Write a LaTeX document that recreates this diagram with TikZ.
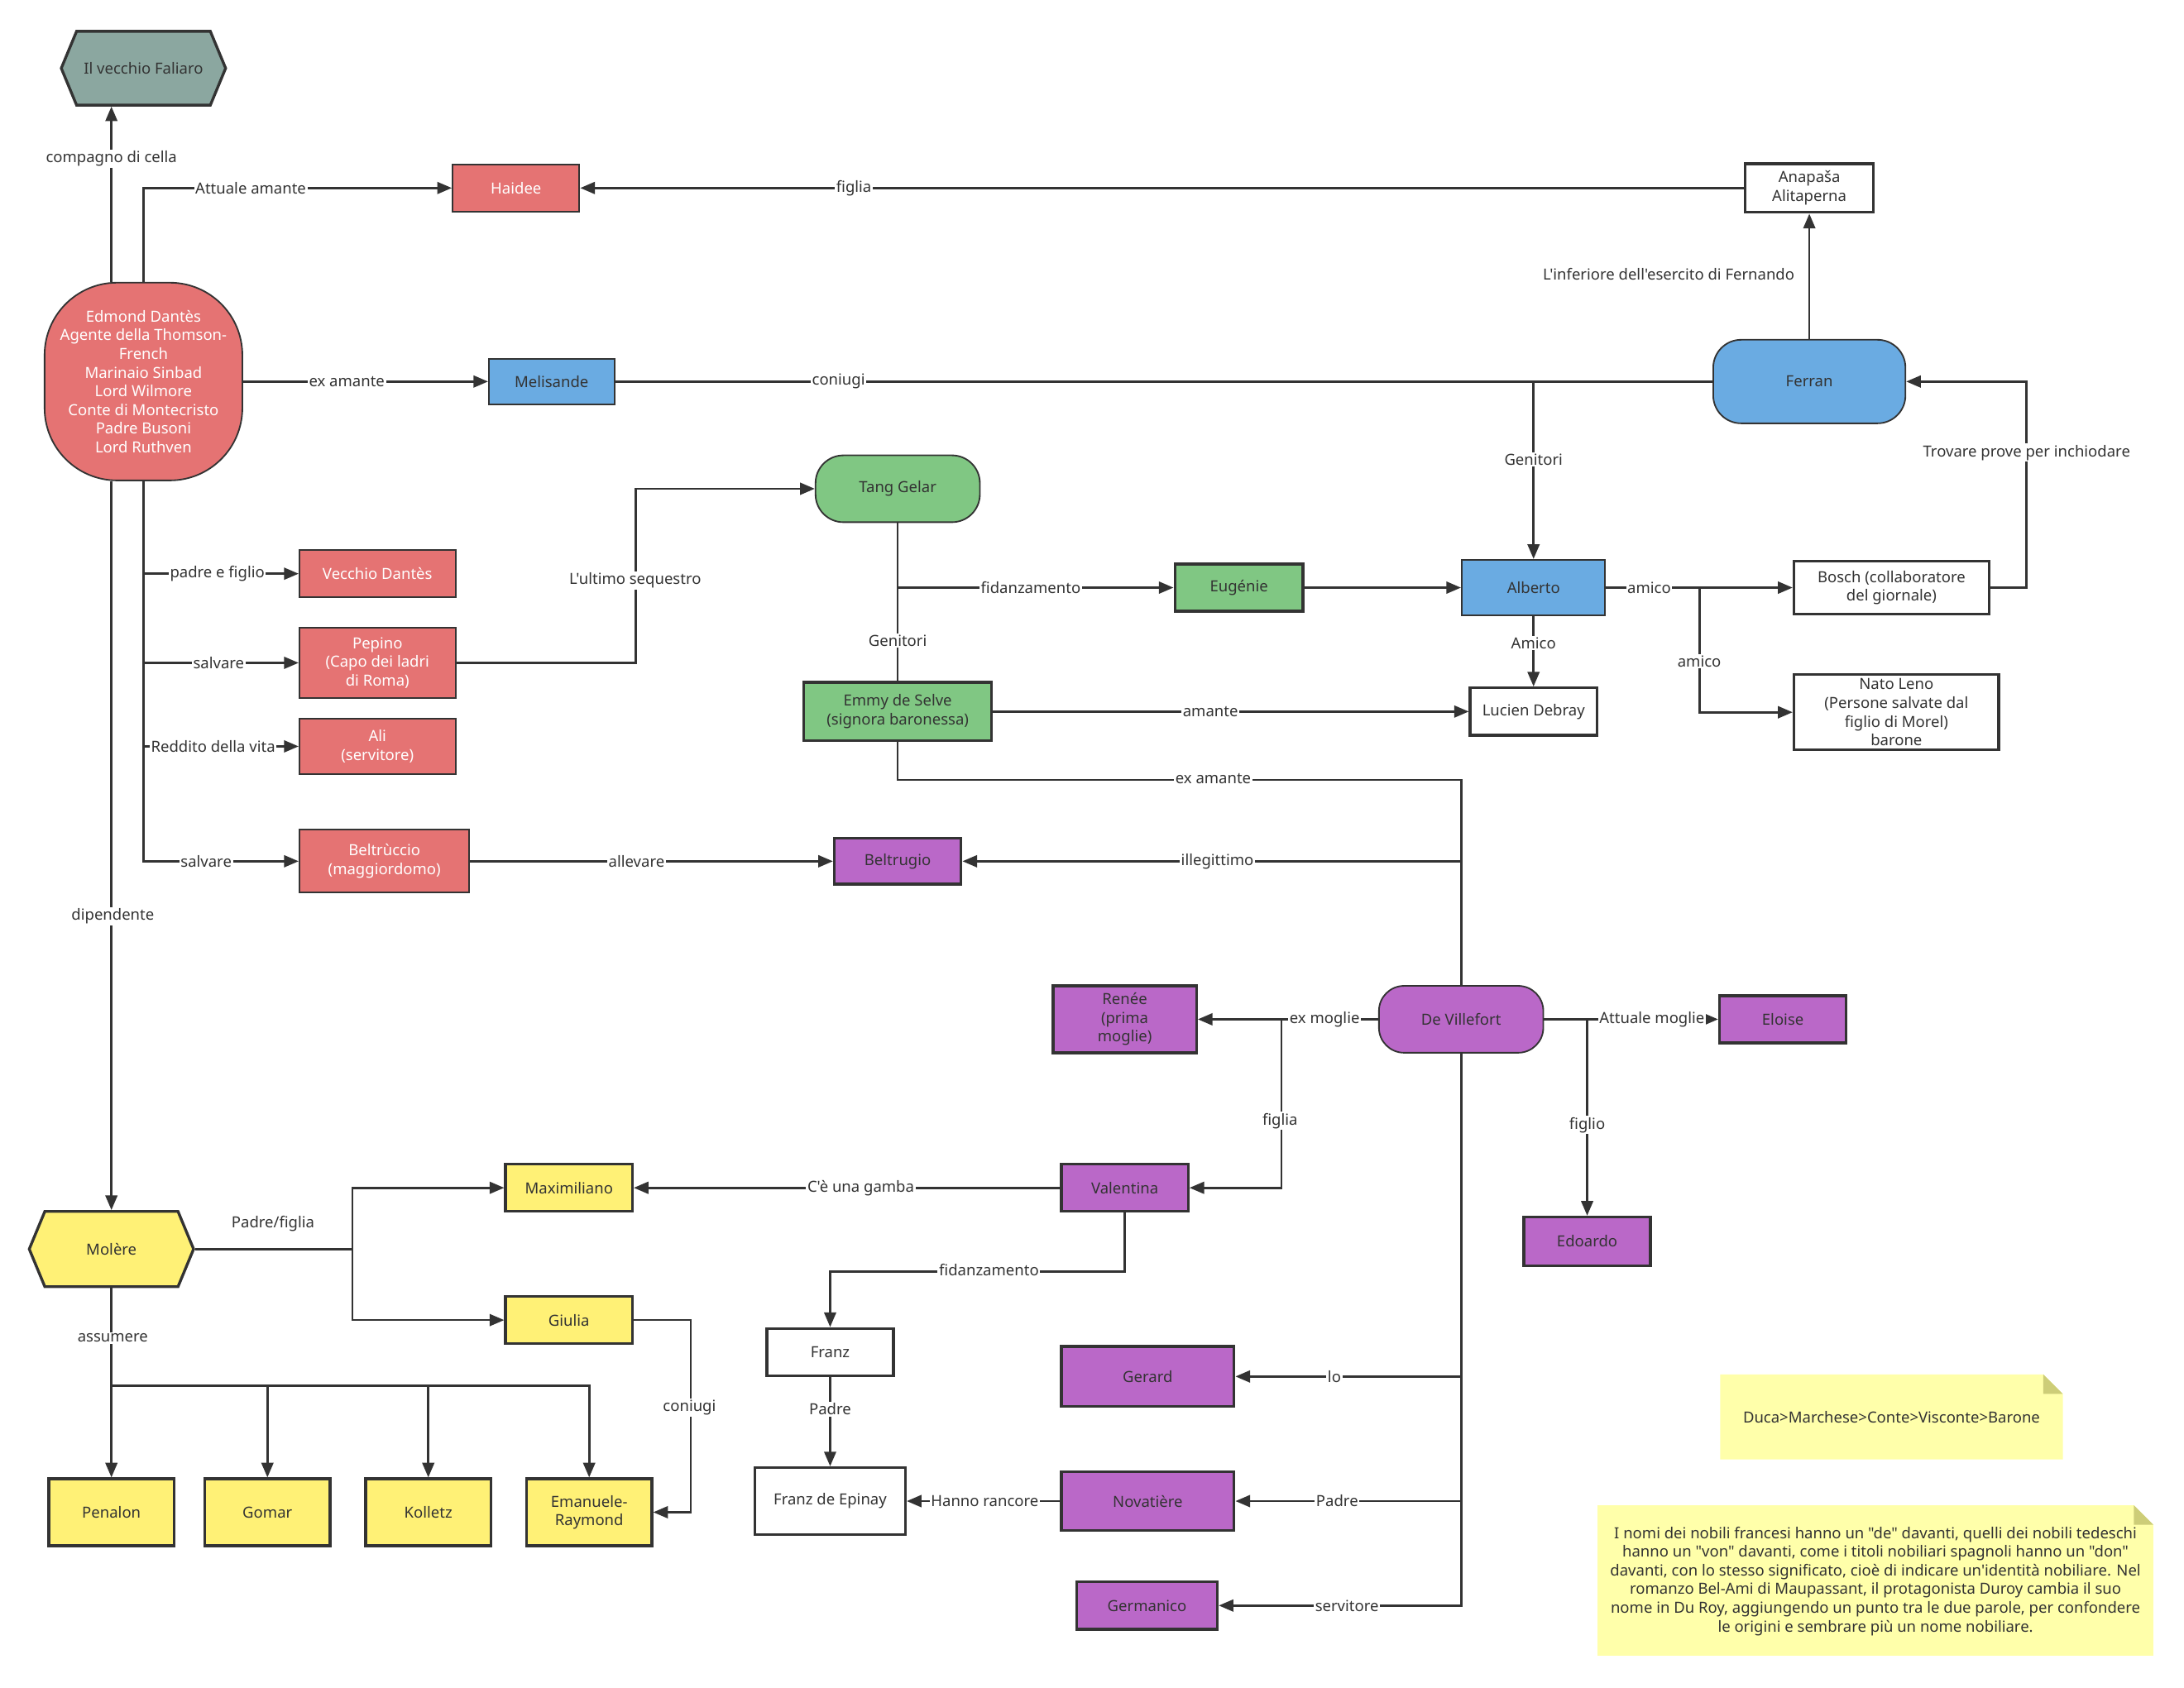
\documentclass[tikz,border=0pt]{standalone}
\usepackage{fontspec}
\setmainfont{Noto Sans}[Ligatures=TeXOff]
\usetikzlibrary{arrows.meta,calc,shapes.symbols}

\definecolor{ink}{RGB}{51,51,51}
\definecolor{redn}{RGB}{229,115,115}
\definecolor{bluen}{RGB}{106,171,226}
\definecolor{greenn}{RGB}{128,199,131}
\definecolor{purplen}{RGB}{186,104,200}
\definecolor{yellown}{RGB}{255,241,118}
\definecolor{grayn}{RGB}{139,167,160}
\definecolor{notey}{RGB}{255,255,170}
\definecolor{notefold}{RGB}{205,205,120}

\tikzset{every picture/.style={line width=0.75pt}}

\begin{document}
\begin{tikzpicture}[x=1pt,y=1pt,yscale=-1,xscale=1,
    font=\fontsize{11}{13.4}\selectfont, text=ink,
    box/.style={draw=ink, line width=2pt, align=center, inner sep=1pt},
    pill/.style={box, line width=1.1pt, rounded corners=#1},
    hexa/.style={box, shape=signal, signal to=west and east, signal pointer angle=135},
    link/.style={draw=ink, line width=1.6pt},
    arr/.style={link, -{Triangle[length=10.5pt,width=8.5pt]}},
    lbl/.style={fill=white, inner sep=1pt}]
    %set diagram size
    \useasboundingbox (0,0) rectangle (1568,1212);

    %Shape: Hexagon
    \node[hexa, fill=grayn, minimum width=118pt, minimum height=53pt] (faliaro) at (103,49) {Il vecchio Faliaro};
    %Shape: Rounded Rect
    \node[box, line width=1.1pt, rounded corners=52pt, fill=redn, text=white, minimum width=142pt, minimum height=142pt] (edmond) at (103,274) {Edmond Dantès\\Agente della Thomson-\\French\\Marinaio Sinbad\\Lord Wilmore\\Conte di Montecristo\\Padre Busoni\\Lord Ruthven};
    %Shape: Rectangle
    \node[box, line width=1.2pt, fill=redn, text=white, minimum width=91pt, minimum height=34pt] (haidee) at (370.5,135) {Haidee};
    \node[box, fill=white, minimum width=92pt, minimum height=35pt] (anapasa) at (1299,135) {Anapaša\\Alitaperna};
    \node[pill=20pt, fill=bluen, minimum width=138pt, minimum height=60pt] (ferran) at (1299,274) {Ferran};
    \node[box, line width=1.2pt, fill=bluen, minimum width=90pt, minimum height=33pt] (melisande) at (396,274) {Melisande};
    \node[pill=20pt, fill=greenn, minimum width=118pt, minimum height=48pt] (tang) at (644.5,351) {Tang Gelar};
    \node[box, fill=greenn, minimum width=92pt, minimum height=34pt] (eugenie) at (889.5,422) {Eugénie};
    \node[box, line width=1.2pt, fill=bluen, minimum width=103pt, minimum height=40pt] (alberto) at (1101,422) {Alberto};
    \node[box, fill=white, minimum width=140pt, minimum height=38pt] (bosch) at (1358,422) {Bosch (collaboratore\\del giornale)};
    \node[box, fill=white, inner sep=0pt, minimum width=147pt, minimum height=54pt] (nato) at (1361.5,511.5) {Nato Leno\\(Persone salvate dal\\figlio di Morel)\\barone};
    \node[box, fill=white, minimum width=91pt, minimum height=34pt] (lucien) at (1101,511) {Lucien Debray};
    \node[box, fill=greenn, minimum width=135pt, minimum height=42pt] (emmy) at (644.5,511) {Emmy de Selve\\(signora baronessa)};

    %Shape: Rectangle (red)
    \node[box, line width=1.2pt, fill=redn, text=white, minimum width=112pt, minimum height=34pt] (vdantes) at (271,412) {Vecchio Dantès};
    \node[box, line width=1.2pt, fill=redn, text=white, minimum width=112pt, minimum height=50pt] (pepino) at (271,476) {Pepino\\(Capo dei ladri\\di Roma)};
    \node[box, line width=1.2pt, fill=redn, text=white, minimum width=112pt, minimum height=40pt] (ali) at (271,536) {Ali\\(servitore)};
    \node[box, line width=1.2pt, fill=redn, text=white, minimum width=122pt, minimum height=45pt] (beltruccio) at (276,618.5) {Beltrùccio\\(maggiordomo)};

    %Shape: Rectangle (purple)
    \node[box, fill=purplen, minimum width=91pt, minimum height=33pt] (beltrugio) at (644.5,618.5) {Beltrugio};
    \node[pill=18pt, fill=purplen, minimum width=118pt, minimum height=48pt] (villefort) at (1049,732) {De Villefort};
    \node[box, fill=purplen, minimum width=103pt, minimum height=48pt] (renee) at (807.5,732) {Renée\\(prima\\moglie)};
    \node[box, fill=purplen, minimum width=91pt, minimum height=34pt] (eloise) at (1280,732) {Eloise};
    \node[box, fill=purplen, minimum width=91pt, minimum height=35pt] (edoardo) at (1139.5,891.5) {Edoardo};
    \node[box, fill=purplen, minimum width=91pt, minimum height=34pt] (valentina) at (807.5,853) {Valentina};
    \node[box, fill=purplen, minimum width=124pt, minimum height=43pt] (gerard) at (824,988.5) {Gerard};
    \node[box, fill=purplen, minimum width=124pt, minimum height=42pt] (novatiere) at (824,1078) {Novatière};
    \node[box, fill=purplen, minimum width=101pt, minimum height=34pt] (germanico) at (823.5,1153) {Germanico};

    %Shape: Rectangle (white)
    \node[box, fill=white, minimum width=91pt, minimum height=34pt] (franz) at (596,971) {Franz};
    \node[box, fill=white, minimum width=108pt, minimum height=48pt] (epinay) at (596,1078) {Franz de Epinay};

    %Shape: Rectangle (yellow)
    \node[hexa, fill=yellown, minimum width=118pt, minimum height=54pt] (molere) at (80,897) {Molère};
    \node[box, fill=yellown, minimum width=91pt, minimum height=34pt] (maximiliano) at (408.5,853) {Maximiliano};
    \node[box, fill=yellown, minimum width=91pt, minimum height=34pt] (giulia) at (408.5,948) {Giulia};
    \node[box, fill=yellown, minimum width=90pt, minimum height=48pt] (penalon) at (80,1086) {Penalon};
    \node[box, fill=yellown, minimum width=90pt, minimum height=48pt] (gomar) at (192,1086) {Gomar};
    \node[box, fill=yellown, minimum width=90pt, minimum height=48pt] (kolletz) at (307.5,1086) {Kolletz};
    \node[box, fill=yellown, minimum width=90pt, minimum height=48pt] (emanuele) at (423,1086) {Emanuele-\\Raymond};

    %Shape: Notes
    \fill[notey] (1235,987) -- (1467,987) -- (1481,1001) -- (1481,1048) -- (1235,1048) -- cycle;
    \fill[notefold] (1467,987) -- (1481,1001) -- (1467,1001) -- cycle;
    \node (noteA) at (1358,1018) {Duca>Marchese>Conte>Visconte>Barone};
    \fill[notey] (1147,1081) -- (1532,1081) -- (1546,1095) -- (1546,1189) -- (1147,1189) -- cycle;
    \fill[notefold] (1532,1081) -- (1546,1095) -- (1532,1095) -- cycle;
    \node[align=center] (noteB) at (1346.5,1135.5) {I nomi dei nobili francesi hanno un "de" davanti, quelli dei nobili tedeschi\\hanno un "von" davanti, come i titoli nobiliari spagnoli hanno un "don"\\davanti, con lo stesso significato, cioè di indicare un'identità nobiliare. Nel\\romanzo Bel-Ami di Maupassant, il protagonista Duroy cambia il suo\\nome in Du Roy, aggiungendo un punto tra le due parole, per confondere\\le origini e sembrare più un nome nobiliare.};

    %Forks
    \coordinate (amicofork) at ($(alberto.east)!0.5!(bosch.west)$);
    \coordinate (moglifork) at ($(renee.east)+(60,0)$);
    \coordinate (figliofork) at (edoardo.north |- villefort.east);
    \coordinate (molfork) at ($(molere.east)+(113,0)$);
    \coordinate (assfork) at ($(molere.south)+(0,70)$);

    %Straight Lines
    \draw[arr] ($(edmond.north)+(-23,0)$) -- ($(faliaro.south)+(-23,0)$);
    \draw[arr] (edmond.north) |- (haidee.west);
    \draw[arr] (anapasa.west) -- (haidee.east);
    \draw[arr] (edmond.east) -- (melisande.west);
    \draw[link] (melisande.east) -- (ferran.west);
    \draw[arr] (ferran.north) -- (anapasa.south);
    \draw[arr] (alberto.north |- ferran.west) -- (alberto.north);
    \draw[arr] (bosch.east) -- ++(26,0) |- (ferran.east);
    \draw[arr] (alberto.east) -- (bosch.west);
    \draw[arr] (amicofork) |- (nato.west);
    \draw[arr] (alberto.south) -- (lucien.north);
    \draw[arr] (eugenie.east) -- (alberto.west);
    \draw[link] (tang.south) -- (emmy.north);
    \draw[arr] (tang.south |- eugenie.west) -- (eugenie.west);
    \draw[arr] (pepino.east) -- ++(129,0) |- (tang.west);
    \draw[arr] (emmy.east) -- (lucien.west);
    \draw[link] (emmy.south) -- ++(0,27) -| (villefort.north);
    \draw[arr] (villefort.north |- beltrugio.east) -- (beltrugio.east);
    \draw[arr] (beltruccio.east) -- (beltrugio.west);
    \draw[arr] (edmond.south) |- (vdantes.west);
    \draw[arr] (edmond.south) |- (pepino.west);
    \draw[arr] (edmond.south) |- (ali.west);
    \draw[arr] (edmond.south) |- (beltruccio.west);
    \draw[arr] ($(edmond.south)+(-23,0)$) -- (molere.north);
    \draw[arr] (villefort.west) -- (renee.east);
    \draw[arr] (moglifork) |- (valentina.east);
    \draw[arr] (villefort.east) -- (eloise.west);
    \draw[arr] (figliofork) -- (edoardo.north);
    \draw[arr] (villefort.south) |- (gerard.east);
    \draw[arr] (villefort.south) |- (novatiere.east);
    \draw[arr] (villefort.south) |- (germanico.east);
    \draw[arr] (valentina.west) -- (maximiliano.east);
    \draw[arr] (valentina.south) -- ++(0,42) -| (franz.north);
    \draw[arr] (franz.south) -- (epinay.north);
    \draw[arr] (novatiere.west) -- (epinay.east);
    \draw[link] (molere.east) -- (molfork);
    \draw[arr] (molfork) |- (maximiliano.west);
    \draw[arr] (molfork) |- (giulia.west);
    \draw[link] (molere.south) -- (assfork);
    \draw[arr] (assfork) -| (penalon.north);
    \draw[arr] (assfork) -| (gomar.north);
    \draw[arr] (assfork) -| (kolletz.north);
    \draw[arr] (assfork) -| (emanuele.north);
    \draw[arr] (giulia.east) -- ++(41,0) |- (emanuele.east);

    % Text Node
    \node[lbl] (lcella) at (80,114) {compagno di cella};
    \node[lbl] (lattuale) at (180,135) {Attuale amante};
    \node[lbl] (lfiglia) at (613,135) {figlia};
    \node[lbl] (lexam) at (249,274) {ex amante};
    \node[lbl] (lconiugi) at (602,274) {coniugi};
    \node[anchor=east] (lfern) at (1292,197) {L'inferiore dell'esercito di Fernando};
    \node[lbl] (lgenA) at (1101,330) {Genitori};
    \node[lbl] (ltrov) at (1455,325) {Trovare prove per inchiodare};
    \node[lbl] (lamicoA) at (1184,422) {amico};
    \node[lbl] (lamicoB) at (1220,475) {amico};
    \node[lbl] (lamicoC) at (1101,462) {Amico};
    \node[lbl] (lseq) at (456,417) {L'ultimo sequestro};
    \node[lbl] (lfidA) at (740,422) {fidanzamento};
    \node[lbl] (lgenB) at (644.5,460) {Genitori};
    \node[lbl] (lamante) at (869,511) {amante};
    \node[lbl] (lexamB) at (871,559) {ex amante};
    \node[lbl] (lilleg) at (874,618.5) {illegittimo};
    \node[lbl] (lalle) at (457,618.5) {allevare};
    \node[lbl] (lpadre) at (156,412) {padre e figlio};
    \node[lbl] (lsalvA) at (157,476) {salvare};
    \node[lbl] (lredd) at (153,536) {Reddito della vita};
    \node[lbl] (lsalvB) at (148,618.5) {salvare};
    \node[lbl] (ldip) at (81,658) {dipendente};
    \node[lbl] (lexmo) at (951,732) {ex moglie};
    \node[lbl] (lfigliaB) at (919,805) {figlia};
    \node[lbl] (latmo) at (1186,732) {Attuale moglie};
    \node[lbl] (lfiglio) at (1139.5,808) {figlio};
    \node[lbl] (lgamba) at (618,853) {C'è una gamba};
    \node[lbl] (lfidB) at (710,912) {fidanzamento};
    \node[lbl] (lpadreB) at (596,1012) {Padre};
    \node[lbl] (lranc) at (707,1078) {Hanno rancore};
    \node[lbl] (llo) at (958,988.5) {lo};
    \node[lbl] (lpadreC) at (960,1078) {Padre};
    \node[lbl] (lserv) at (967,1153) {servitore};
    \node (lpf) at (196,879) {Padre/figlia};
    \node[lbl] (lass) at (81,961) {assumere};
    \node[lbl] (lconB) at (495,1011) {coniugi};

\end{tikzpicture}
\end{document}
